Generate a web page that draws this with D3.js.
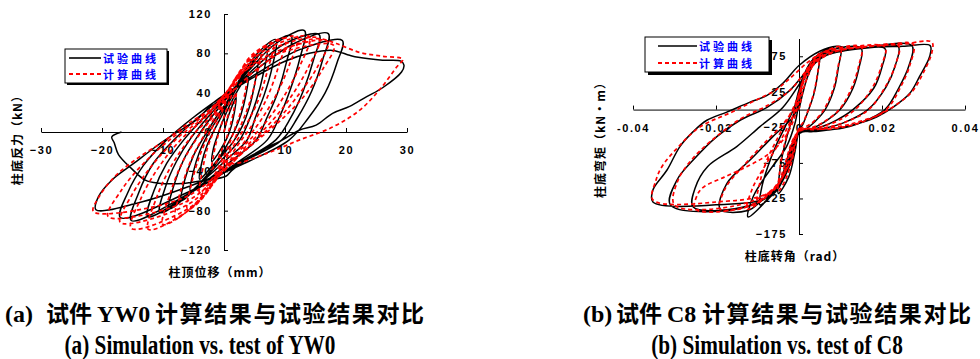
<!DOCTYPE html>
<html>
<head>
<meta charset="utf-8">
<script src="https://cdn.jsdelivr.net/npm/d3@7"></script>
<style>
  body { margin: 0; background: #fff; }
  svg { display: block; }
  .tick text { font-family: "Liberation Sans", Arial, sans-serif; font-weight: bold; font-size: 11px; letter-spacing: 1.6px; fill: #000; }
  .axis path, .axis line { stroke: #000; stroke-width: 1; }
</style>
</head>
<body>
<svg id="chart" width="980" height="359"></svg>
<script>
// ---------- Specimen YW0: column-top displacement (mm) vs base shear (kN) ----------
const yw0XTicks = [-30, -20, -10, 0, 10, 20, 30];
const yw0YTicks = [-120, -80, -40, 0, 40, 80, 120];

// measured hysteresis (solid black), one continuous load path
const yw0Test = [
  [0,0],[0.6,14],[1.3,26],[2,35],[1.7,20],[1.2,6],[0.5,-6],[-0.3,-15],[-1.2,-24],[-2,-30],[-1.7,-16],[-1.1,-4],[-0.4,8],[0.4,20],
  [1.5,34],[2.8,48],[4,58],[3.6,38],[2.8,18],[1.8,2],[0.6,-12],[-0.8,-26],[-2.4,-38],[-4,-48],[-3.6,-30],[-2.8,-14],[-1.6,2],[-0.4,16],[0.8,30],
  [2.2,46],[3.8,62],[5.5,72],[5,48],[4.1,24],[3,6],[1.5,-10],[-0.6,-26],[-2.8,-44],[-5.5,-60],[-5,-40],[-4,-20],[-2.6,-2],[-1,14],[0.6,30],
  [2.4,50],[4.5,70],[7,84],[6.4,58],[5.3,32],[4,10],[2.6,-8],[0,-26],[-3,-46],[-7,-70],[-6.4,-48],[-5,-24],[-3.2,-4],[-1.4,14],[0.6,32],
  [3,58],[5.5,80],[8.5,94],[7.9,66],[6.6,38],[5.1,14],[3.8,-8],[0.8,-26],[-3.5,-50],[-9,-78],[-8.2,-54],[-6.6,-28],[-4.5,-6],[-2.2,14],[0.4,34],
  [3.5,60],[7,86],[11,98],[10.2,70],[8.8,40],[7,14],[5.3,-8],[1.5,-28],[-3.8,-54],[-10.5,-82],[-9.6,-56],[-7.8,-30],[-5.4,-6],[-2.8,14],[0.2,34],
  [4,62],[8.5,90],[13.2,103],[12.4,74],[10.8,42],[9,14],[7.1,-8],[2.4,-30],[-4.5,-58],[-12.5,-86],[-11.5,-60],[-9.4,-32],[-6.6,-8],[-3.4,14],[0,34],
  [4.5,62],[10,90],[15.6,99],[14.7,74],[13,42],[10.9,14],[8.5,-8],[2.8,-30],[-5,-60],[-15.2,-90],[-14,-62],[-11.6,-32],[-8.2,-8],[-4.4,14],[-0.4,34],
  [5,62],[11.5,90],[17.1,100],[16.2,74],[14.4,42],[12,14],[9.5,-8],[3.2,-30],[-5.5,-60],[-17,-87],[-15.8,-62],[-13.2,-34],[-9.4,-8],[-5.2,14],[-0.8,34],
  [5.5,60],[12.5,84],[19.4,93],[18.5,70],[16.6,40],[13.8,14],[10.7,-8],[4,-30],[-6,-56],[-14,-72],[-21,-79],
  [-20.6,-66],[-18.4,-49],[-14.8,-32],[-11.2,-15],[-7.9,-1],[-4.6,12],[-1.3,32],[1.3,42],[5,56],[10,72],[14,80],[17.8,83],
  [20.6,78],[22,76],[26,73],[29,72],[29.5,68],[29.1,61],[26,45],[23.4,36],[20.6,26],[17.8,19],[15.1,7],[12.4,2],[9.6,-8],
  [5.8,-20],[1.3,-39],[0.3,-45],[-3,-49],[-6.3,-52],[-10.7,-52],[-12.9,-49],[-15.2,-37],[-17.3,-23],[-18,-11],[-18.4,-5],[-16.8,0]
];

// computed hysteresis (red dashed)
const yw0Calc = [
  [0,0],[0.7,18],[1.3,30],[2,40],[1.6,22],[1,6],[0.3,-8],[-0.5,-20],[-1.2,-30],[-2,-38],[-1.6,-20],[-1,-4],[-0.3,10],[0.5,24],
  [1.4,40],[2.6,56],[4,66],[3.5,42],[2.7,20],[1.7,2],[0.6,-16],[-0.6,-32],[-2,-48],[-4,-62],[-3.5,-38],[-2.7,-16],[-1.6,2],[-0.5,18],[0.6,34],
  [1.8,50],[3.6,70],[6,82],[5.3,56],[4.1,28],[2.7,6],[1.2,-14],[-0.4,-34],[-2.6,-58],[-6,-78],[-5.3,-52],[-4.1,-26],[-2.6,-4],[-1,16],[0.6,36],
  [2,54],[4.5,78],[8,90],[7.1,62],[5.6,32],[3.7,8],[1.6,-14],[-0.5,-36],[-3.3,-64],[-8,-88],[-7.1,-60],[-5.5,-30],[-3.5,-6],[-1.4,16],[0.6,38],
  [2.2,58],[5.5,82],[10,95],[8.9,66],[7,34],[4.7,8],[2.2,-14],[-0.4,-38],[-4,-70],[-10,-94],[-8.9,-64],[-6.9,-32],[-4.4,-6],[-1.8,16],[0.6,40],
  [2.5,60],[6.5,85],[12,97],[10.7,68],[8.4,36],[5.6,8],[2.6,-16],[-0.4,-40],[-4.6,-74],[-12.4,-99],[-11,-66],[-8.6,-34],[-5.5,-6],[-2.2,16],[0.6,42],
  [2.8,62],[7.5,86],[14,97],[12.5,68],[9.8,36],[6.6,8],[3,-16],[-0.4,-42],[-5.4,-76],[-15.2,-98],[-13.5,-66],[-10.5,-34],[-6.8,-6],[-2.8,16],[0.6,42],
  [3,62],[8.5,86],[15.6,95],[14,68],[11,36],[7.4,8],[3.4,-16],[-0.4,-42],[-6,-74],[-17,-92],[-15.1,-64],[-11.8,-34],[-7.6,-6],[-3.1,16],[0.6,42],
  [3.2,62],[9.5,84],[17,92],[15.3,66],[12,36],[8.1,8],[3.8,-16],[-0.4,-42],[-6.6,-72],[-19,-86],[-16.9,-60],[-13.2,-32],[-8.5,-6],[-3.5,16],[0.6,42],
  [3.4,62],[10,82],[18,88],[16.2,64],[12.8,34],[8.6,8],[4,-16],[-0.4,-40],[-7,-68],[-21.4,-81],
  [-20.5,-66],[-18,-46],[-14.5,-28],[-10,-10],[-6,8],[-2,24],[1.5,42],[5,62],[9,80],[13,92],[15.6,95],[18.4,90],[22.2,81],
  [26,77],[29.3,74],[28.3,66],[25.5,43],[22.2,22],[17.8,5],[12.4,-8],[6.9,-22],[1.3,-32],[-0.8,-25]
];

// ---------- Specimen C8: base rotation (rad) vs base moment (kN·m) ----------
const c8XTicks = [-0.04, -0.02, 0, 0.02, 0.04];
const c8XLabels = ["-0.04", "-0.02", "0", "0.02", "0.04"];
const c8YTicks = [-175, -125, -75, -25, 25, 75];

const c8Test = [
  [0,0],[0.001,25],[0.002,45],[0.0035,65],[0.005,78],
  [0.0045,50],[0.0035,20],[0.002,-5],[0.001,-20],[0,-30],[-0.001,-60],[-0.0025,-95],[-0.005,-118],
  [-0.0048,-95],[-0.0042,-70],[-0.003,-40],[-0.0015,-10],[0,20],[0.001,45],[0.003,68],[0.006,82],[0.01,88],
  [0.0095,60],[0.0085,30],[0.0063,0],[0.004,-16],[0.002,-26],[0,-33],[-0.002,-75],[-0.005,-110],[-0.0094,-134],
  [-0.009,-110],[-0.0075,-80],[-0.0055,-50],[-0.003,-20],[-0.001,5],[0,28],[0.002,58],[0.005,76],[0.009,86],[0.015,86],
  [0.0145,60],[0.013,30],[0.0099,0],[0.006,-18],[0.003,-27],[0,-33],[-0.003,-85],[-0.007,-122],[-0.0123,-151],
  [-0.011,-122],[-0.007,-85],[-0.003,-52],[-0.001,-20],[0,10],[0.001,40],[0.003,62],[0.006,78],[0.01,84],[0.015,86],[0.0207,86],
  [0.02,60],[0.018,30],[0.013,0],[0.008,-18],[0.004,-27],[0,-33],[-0.004,-100],[-0.009,-128],[-0.0123,-142],[-0.019,-140],
  [-0.0174,-104],[-0.0118,-71],[-0.0063,-38],[-0.0014,-10],[0,10],[0.001,40],[0.004,66],[0.008,80],[0.015,86],[0.0239,89],
  [0.0232,62],[0.021,32],[0.0166,0],[0.011,-18],[0.005,-28],[0,-34],[-0.005,-110],[-0.012,-135],[-0.0255,-137],
  [-0.025,-110],[-0.022,-80],[-0.015,-52],[-0.0094,-24],[-0.0039,3],[0,35],[0.003,62],[0.008,80],[0.016,87],[0.0272,90],
  [0.0265,62],[0.024,30],[0.0207,0],[0.015,-18],[0.008,-28],[0,-34],[-0.006,-115],[-0.015,-140],[-0.031,-134],
  [-0.0294,-99],[-0.0255,-71],[-0.0198,-38],[-0.0142,-15],[-0.0077,3],[-0.0022,27],[0.002,55],[0.006,75],[0.015,86],[0.025,89],[0.0316,90],
  [0.0315,75],[0.029,46],[0.0267,23],[0.0227,3.5],[0.0188,-10],[0.0147,-19],[0.0106,-26],[0.0034,-31],[0,-33],
  [-0.006,-118],[-0.02,-134],[-0.0352,-130],
  [-0.0352,-113],[-0.0318,-85],[-0.0287,-52],[-0.0255,-31],[-0.0222,-15],[-0.0174,-3.5],[-0.0118,10.5],[-0.0077,20],[-0.0039,37],
  [0,62],[0.005,82],[0.009,89],[0.011,87]
];

const c8Calc = [
  [0,0],[0.001,28],[0.0025,52],[0.005,80],
  [0.0045,52],[0.0035,22],[0.002,-4],[0.001,-18],[0,-26],[-0.0012,-60],[-0.003,-95],[-0.005,-115],
  [-0.0047,-90],[-0.004,-62],[-0.0028,-34],[-0.0013,-6],[0,22],[0.0015,50],[0.004,72],[0.007,84],[0.01,88],
  [0.0094,60],[0.0083,30],[0.006,0],[0.0037,-16],[0.0017,-24],[0,-28],[-0.002,-72],[-0.0055,-108],[-0.01,-128],
  [-0.0094,-102],[-0.0078,-72],[-0.0055,-44],[-0.0028,-14],[-0.0008,10],[0.0005,32],[0.002,58],[0.005,78],[0.009,86],[0.015,88],
  [0.0144,62],[0.0128,32],[0.0097,0],[0.0058,-18],[0.0028,-26],[0,-30],[-0.003,-84],[-0.0075,-120],[-0.0125,-140],
  [-0.0113,-112],[-0.0085,-82],[-0.0053,-52],[-0.0025,-22],[-0.0005,6],[0.001,38],[0.003,62],[0.006,78],[0.01,85],[0.0207,88],
  [0.0199,62],[0.0178,32],[0.0135,0],[0.0085,-18],[0.004,-26],[0,-30],[-0.004,-96],[-0.01,-130],[-0.019,-140],
  [-0.0177,-110],[-0.0135,-80],[-0.0085,-48],[-0.0035,-18],[-0.0005,10],[0.001,40],[0.004,66],[0.009,82],[0.016,88],[0.024,90],
  [0.0233,64],[0.021,34],[0.0168,0],[0.011,-18],[0.005,-27],[0,-30],[-0.005,-106],[-0.012,-136],[-0.025,-140],
  [-0.0245,-120],[-0.023,-109],[-0.018,-95],[-0.0125,-80],[-0.0077,-64],[-0.0035,-40],[-0.001,-10],[0.0005,25],[0.002,52],
  [0.006,76],[0.012,86],[0.02,90],[0.0275,92],
  [0.0268,64],[0.0245,32],[0.021,0],[0.015,-18],[0.008,-27],[0,-31],[-0.006,-110],[-0.016,-136],[-0.03,-134],
  [-0.0292,-100],[-0.0255,-68],[-0.0195,-36],[-0.0138,-12],[-0.0075,6],[-0.002,28],[0.002,56],[0.006,76],[0.015,88],[0.025,92],[0.032,95],
  [0.032,80],[0.0298,50],[0.0272,25],[0.023,5],[0.019,-8],[0.0145,-17],[0.0105,-23],[0.004,-28],[0,-30],
  [-0.006,-112],[-0.02,-130],[-0.0352,-127],
  [-0.0345,-100],[-0.033,-80],[-0.029,-52],[-0.024,-25],[-0.016,-3],[-0.0105,13],[-0.0055,28],[-0.002,45],[0.002,66],[0.005,78],[0.008,84]
];

const legendNames = ["试验曲线", "计算曲线"];

const svg = d3.select("#chart");
const CJK = "'Noto Sans CJK SC', 'Noto Sans CJK JP', sans-serif";
const SERIF = "'Liberation Serif', 'Times New Roman', serif";

function panel(cfg) {
  const x = d3.scaleLinear().domain(cfg.xDomain).range(cfg.xRange);
  const y = d3.scaleLinear().domain(cfg.yDomain).range(cfg.yRange);
  const g = svg.append("g");

  // axes cross at the origin, ticks point into the plot
  const xAxis = d3.axisBottom(x).tickValues(cfg.xTicks).tickSizeInner(-4).tickSizeOuter(0)
    .tickPadding(cfg.xPad).tickFormat((d, i) => cfg.xLabels ? cfg.xLabels[i] : d3.format("d")(d));
  const yAxis = d3.axisLeft(y).tickValues(cfg.yTicks).tickSizeInner(-4).tickSizeOuter(0)
    .tickPadding(12).tickFormat(d3.format("d"));

  g.append("g").attr("class", "axis").attr("transform", `translate(0,${y(0)})`).call(xAxis);
  g.append("g").attr("class", "axis").attr("transform", `translate(${x(0)},0)`).call(yAxis);
  g.selectAll(".axis .domain").attr("stroke", "#000");

  const line = d3.line().x(d => x(d[0])).y(d => y(d[1])).curve(d3.curveCatmullRom.alpha(0.5));

  g.append("path").datum(cfg.test).attr("d", line)
    .attr("fill", "none").attr("stroke", "#000").attr("stroke-width", 1.5).attr("stroke-linejoin", "round");
  g.append("path").datum(cfg.calc).attr("d", line)
    .attr("fill", "none").attr("stroke", "#ff0000").attr("stroke-width", 1.7).attr("stroke-dasharray", "4,3");

  // axis titles
  g.append("text").attr("x", cfg.xTitlePos[0]).attr("y", cfg.xTitlePos[1])
    .attr("text-anchor", "middle").attr("dominant-baseline", "central")
    .style("font-family", CJK).style("font-weight", 700).style("font-size", "12px").style("letter-spacing", "1px")
    .text(cfg.xTitle);
  g.append("text").attr("transform", `translate(${cfg.yTitlePos[0]},${cfg.yTitlePos[1]}) rotate(-90)`)
    .attr("text-anchor", "middle").attr("dominant-baseline", "central")
    .style("font-family", CJK).style("font-weight", 700).style("font-size", "12px").style("letter-spacing", "1px")
    .text(cfg.yTitle);

  // legend with drop shadow
  const L = cfg.legend;
  g.append("rect").attr("x", L.x + L.sh).attr("y", L.y + L.sh).attr("width", L.w).attr("height", L.h).attr("fill", "#000");
  g.append("rect").attr("x", L.x).attr("y", L.y).attr("width", L.w).attr("height", L.h)
    .attr("fill", "#fff").attr("stroke", "#000").attr("stroke-width", 1);
  legendNames.forEach((name, i) => {
    const yy = L.rows[i];
    g.append("line").attr("x1", L.lx1).attr("x2", L.lx2).attr("y1", yy).attr("y2", yy)
      .attr("stroke", i === 0 ? "#000" : "#ff0000").attr("stroke-width", i === 0 ? 1.6 : 1.8)
      .attr("stroke-dasharray", i === 0 ? null : "4,3");
    g.append("text").attr("x", L.tx).attr("y", yy).attr("dominant-baseline", "central")
      .style("font-family", CJK).style("font-weight", 700).style("font-size", "11px").style("letter-spacing", "3px")
      .attr("fill", "#0000ff").text(name);
  });
}

panel({
  xDomain: [-30, 30], xRange: [41, 407], yDomain: [-120, 120], yRange: [250, 14],
  xTicks: yw0XTicks, yTicks: yw0YTicks, xPad: 14,
  test: yw0Test, calc: yw0Calc,
  xTitle: "柱顶位移（mm）", xTitlePos: [220, 271],
  yTitle: "柱底反力（kN）", yTitlePos: [16, 137],
  legend: { x: 65, y: 49, w: 102, h: 34, sh: 2, lx1: 69, lx2: 101, tx: 103, rows: [58, 74] }
});

panel({
  xDomain: [-0.04, 0.04], xRange: [633, 965], yDomain: [-175, 100], yRange: [234, 38.5],
  xTicks: c8XTicks, xLabels: c8XLabels, yTicks: c8YTicks, xPad: 15,
  test: c8Test, calc: c8Calc,
  xTitle: "柱底转角（rad）", xTitlePos: [795, 255],
  yTitle: "柱底弯矩（kN·m）", yTitlePos: [599, 137],
  legend: { x: 645, y: 37, w: 124, h: 35, sh: 3, lx1: 658, lx2: 697, tx: 699, rows: [46, 63] }
});

// ---------- captions ----------
function caption1(parts, baseY) {
  const t = svg.append("text").attr("y", baseY).attr("fill", "#000");
  parts.forEach(p => {
    t.append("tspan").attr("x", p.x).text(p.s)
      .style("font-family", p.cjk ? CJK : SERIF)
      .style("font-weight", 700)
      .style("font-size", p.cjk ? "23px" : "24px")
      .style("letter-spacing", p.ls || "0px");
  });
}
caption1([
  { s: "(a)", x: 5 }, { s: "试件", x: 46, cjk: true }, { s: "YW0", x: 97 },
  { s: "计算结果与试验结果对比", x: 155, cjk: true, ls: "1.6px" }
], 322);
caption1([
  { s: "(b)", x: 583 }, { s: "试件", x: 616, cjk: true }, { s: "C8", x: 667 },
  { s: "计算结果与试验结果对比", x: 702, cjk: true, ls: "1.6px" }
], 322);

function caption2(s, cx) {
  svg.append("text").attr("transform", `translate(${cx},354) scale(0.76,1)`)
    .attr("text-anchor", "middle")
    .style("font-family", SERIF).style("font-weight", 700).style("font-size", "28px")
    .text(s);
}
caption2("(a) Simulation vs. test of YW0", 200);
caption2("(b) Simulation vs. test of C8", 777);
</script>
</body>
</html>
